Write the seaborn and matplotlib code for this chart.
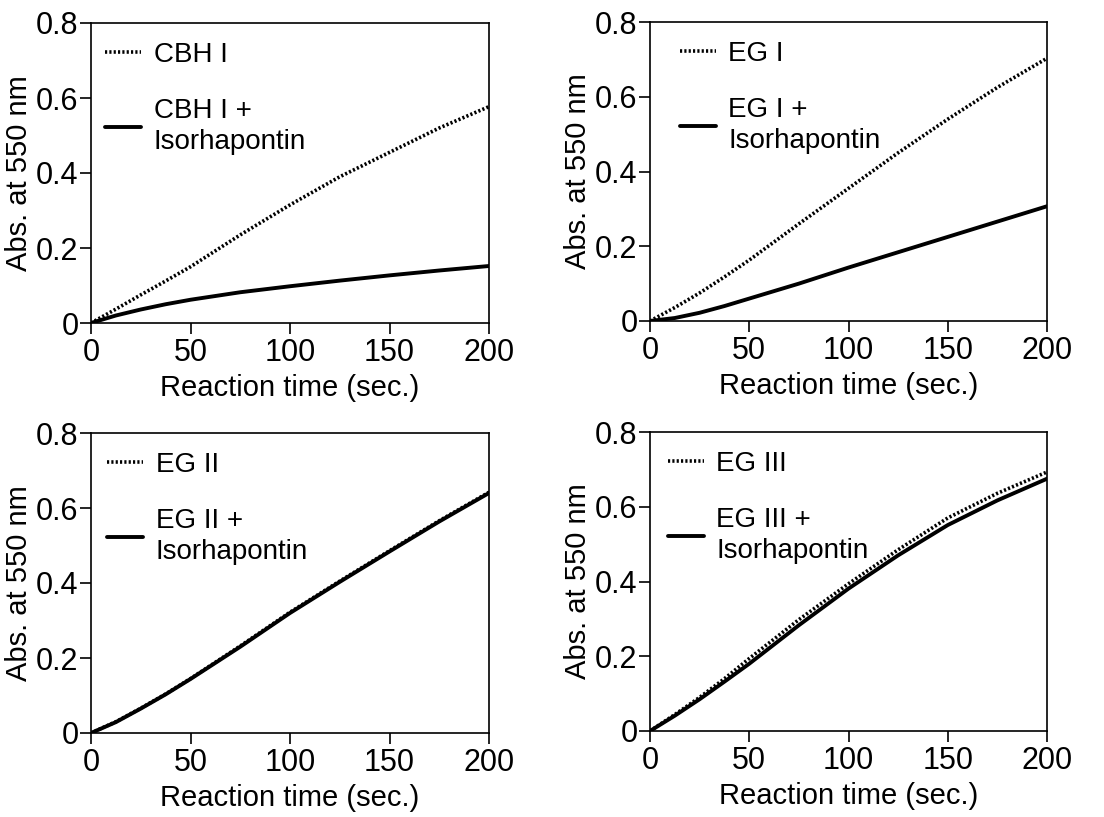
import matplotlib
matplotlib.use("Agg")
import matplotlib.pyplot as plt
import pandas as pd
import seaborn as sns

# reaction time (sec.)
time = [0, 12.5, 25, 37.5, 50, 75, 100, 125, 150, 175, 200]

# absorbance at 550 nm
cbh1 = [0, 0.037, 0.075, 0.112, 0.150, 0.235, 0.315, 0.390, 0.455, 0.520, 0.577]
cbh1_iso = [0, 0.020, 0.036, 0.050, 0.062, 0.082, 0.098, 0.113, 0.127, 0.140, 0.152]
eg1 = [0, 0.036, 0.075, 0.118, 0.163, 0.260, 0.355, 0.450, 0.540, 0.625, 0.703]
eg1_iso = [0, 0.008, 0.022, 0.040, 0.060, 0.100, 0.143, 0.184, 0.225, 0.266, 0.307]
eg2 = [0, 0.030, 0.066, 0.104, 0.145, 0.232, 0.322, 0.405, 0.486, 0.566, 0.642]
eg2_iso = [0, 0.029, 0.065, 0.103, 0.144, 0.230, 0.320, 0.403, 0.484, 0.564, 0.640]
eg3 = [0, 0.044, 0.090, 0.140, 0.194, 0.298, 0.394, 0.485, 0.570, 0.636, 0.693]
eg3_iso = [0, 0.041, 0.085, 0.132, 0.180, 0.283, 0.381, 0.470, 0.551, 0.617, 0.675]

panels = [
    ("CBH I", cbh1, cbh1_iso),
    ("EG I", eg1, eg1_iso),
    ("EG II", eg2, eg2_iso),
    ("EG III", eg3, eg3_iso),
]

sns.set_style("ticks")
plt.rcParams['font.family'] = ['Liberation Sans', 'DejaVu Sans']
for k in ['text.color', 'axes.labelcolor', 'xtick.color', 'ytick.color', 'axes.edgecolor']:
    plt.rcParams[k] = 'black'

fig = plt.figure(figsize=(11.04, 8.17), dpi=100)
W, H = 1104, 817
# axes boxes in pixels: left, top, right, bottom
boxes = [(91, 23, 489, 323), (650, 22, 1047, 321),
         (91, 433, 489, 733), (650, 432, 1047, 731)]
leg_x = [0.035, 0.075, 0.040, 0.045]

for (name, plain, iso), (l, t, r, b), lx in zip(panels, boxes, leg_x):
    ax = fig.add_axes([l / W, 1 - b / H, (r - l) / W, (b - t) / H])
    df = pd.DataFrame({"time": time, "plain": plain, "iso": iso})
    sns.lineplot(data=df, x="time", y="plain", ax=ax, color="black",
                 linewidth=2.6, linestyle=(0, (0.6, 0.6)), label=name)
    sns.lineplot(data=df, x="time", y="iso", ax=ax, color="black",
                 linewidth=2.8, label=name + " +\nIsorhapontin")
    ax.set_xlim(0, 200)
    ax.set_ylim(0, 0.8)
    ax.set_xticks([0, 50, 100, 150, 200])
    ax.set_yticks([0, 0.2, 0.4, 0.6, 0.8])
    ax.set_yticklabels(["0", "0.2", "0.4", "0.6", "0.8"])
    ax.tick_params(labelsize=22, length=8, width=1.2, direction="out")
    ax.tick_params(axis="x", pad=3)
    ax.tick_params(axis="y", pad=1)
    for s in ax.spines.values():
        s.set_linewidth(1.2)
        s.set_visible(True)
    ax.set_xlabel("Reaction time (sec.)", fontsize=21, labelpad=4)
    ax.set_ylabel("Abs. at 550 nm", fontsize=21, labelpad=2)
    leg = ax.legend(loc="upper left", bbox_to_anchor=(lx, 0.938), frameon=False,
                    fontsize=20, handlelength=1.3, handletextpad=0.45,
                    borderpad=0, borderaxespad=0, labelspacing=1.1)
    for txt in leg.get_texts():
        txt.set_linespacing(1.25)

fig.savefig("out.png", dpi=100)
